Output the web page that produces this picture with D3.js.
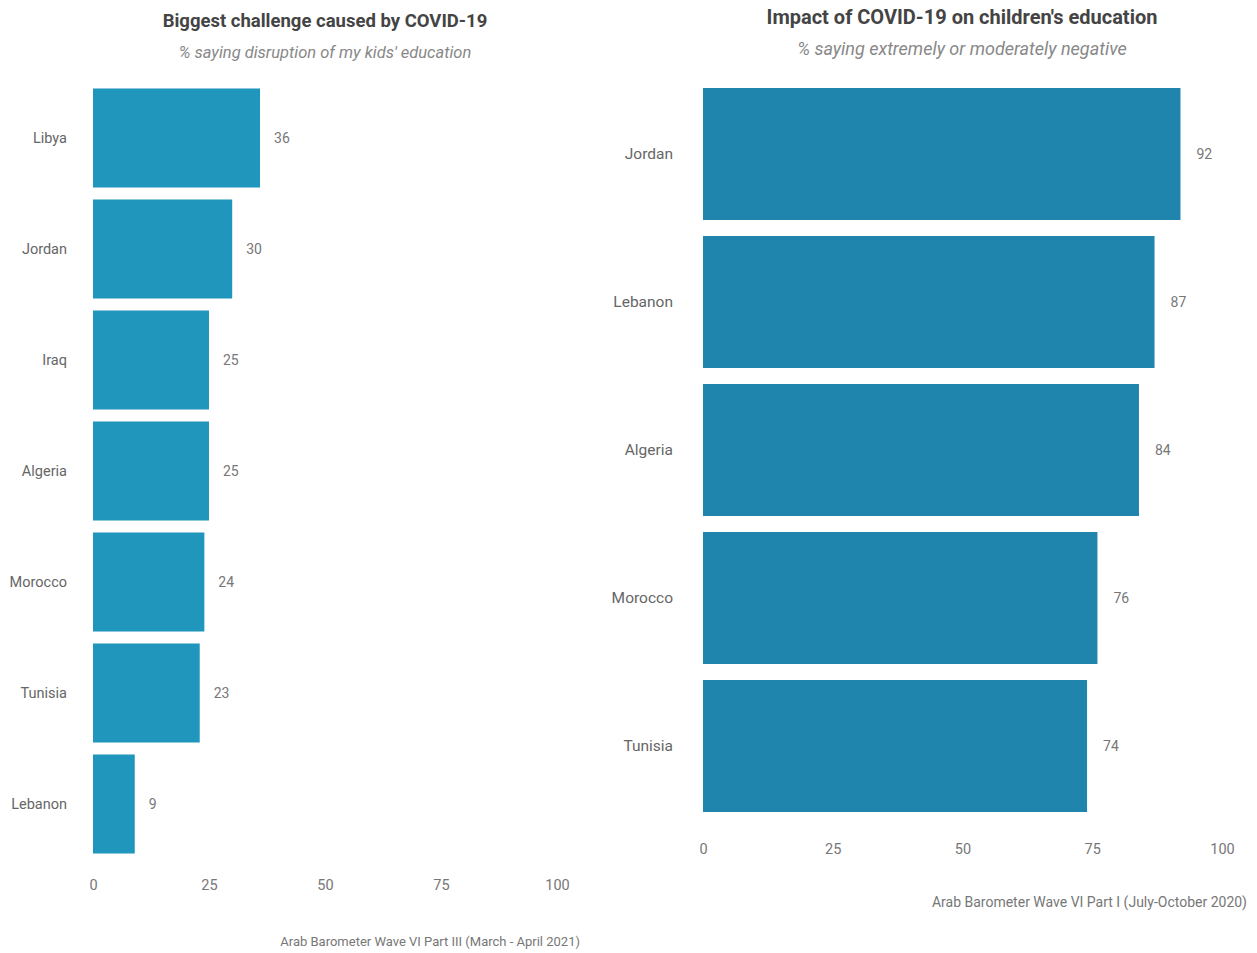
<!DOCTYPE html>
<html>
<head>
<meta charset="utf-8">
<script src="https://cdn.jsdelivr.net/npm/d3@7"></script>
<style>
  body { margin: 0; background: #fff; }
  text { font-family: "Roboto", sans-serif; }
</style>
</head>
<body>
<div id="wrapper"></div>
<script>
const leftCountries = ["Libya", "Jordan", "Iraq", "Algeria", "Morocco", "Tunisia", "Lebanon"];
const leftValues = [36, 30, 25, 25, 24, 23, 9];
const rightCountries = ["Jordan", "Lebanon", "Algeria", "Morocco", "Tunisia"];
const rightValues = [92, 87, 84, 76, 74];
const ticks = [0, 25, 50, 75, 100];

const width = 1257, height = 953;
const svg = d3.select("#wrapper").append("svg")
    .attr("width", width).attr("height", height);

function panel(opt) {
    const data = opt.countries.map((c, i) => ({ country: c, value: opt.values[i] }));
    const x = d3.scaleLinear().domain([0, 100]).range(opt.xRange);
    const y = d3.scaleBand().domain(opt.countries).range(opt.yRange)
        .paddingInner(0.108).paddingOuter(0.054);
    const g = svg.append("g");

    g.selectAll("rect").data(data).join("rect")
        .attr("x", x(0))
        .attr("y", d => y(d.country))
        .attr("width", d => x(d.value) - x(0))
        .attr("height", y.bandwidth())
        .attr("fill", opt.color);

    g.selectAll(".val").data(data).join("text")
        .attr("class", "val")
        .attr("x", d => x(d.value) + opt.labelGap)
        .attr("y", d => y(d.country) + y.bandwidth() / 2)
        .attr("dy", "0.35em")
        .attr("font-size", 14)
        .attr("fill", "#777")
        .text(d => d.value);

    const yAxis = g.append("g")
        .attr("transform", `translate(${x(0) - opt.catGap},0)`)
        .call(d3.axisLeft(y).tickSize(0).tickPadding(0));
    yAxis.select(".domain").remove();
    yAxis.selectAll("text").attr("font-size", opt.catSize).attr("fill", "#666")
        .style("font-family", "Roboto, sans-serif");

    const xAxis = g.append("g")
        .attr("transform", `translate(0,${opt.tickY})`)
        .call(d3.axisBottom(x).tickValues(ticks).tickSize(0).tickPadding(0));
    xAxis.select(".domain").remove();
    xAxis.selectAll("text").attr("font-size", 14.5).attr("fill", "#777").attr("dy", "0.35em")
        .style("font-family", "Roboto, sans-serif");

    svg.append("text")
        .attr("x", opt.titleX).attr("y", opt.titleY)
        .attr("text-anchor", "middle")
        .attr("font-size", opt.titleSize).attr("font-weight", "bold").attr("fill", "#444")
        .text(opt.title);
    svg.append("text")
        .attr("x", opt.titleX).attr("y", opt.titleY + 31)
        .attr("text-anchor", "middle")
        .attr("font-size", opt.subSize).attr("font-style", "italic").attr("fill", "#888")
        .text(opt.subtitle);
    svg.append("text")
        .attr("x", opt.captionX).attr("y", opt.captionY)
        .attr("text-anchor", "end")
        .attr("font-size", opt.capSize).attr("fill", "#777")
        .text(opt.caption);
}

panel({
    countries: leftCountries, values: leftValues,
    xRange: [93, 557], yRange: [82.5, 859.5],
    color: "#2196bc", labelGap: 14, tickY: 885, catGap: 26, catSize: 14.5,
    title: "Biggest challenge caused by COVID-19",
    subtitle: "% saying disruption of my kids' education",
    titleX: 325, titleY: 27, titleSize: 18.5, subSize: 16.5,
    caption: "Arab Barometer Wave VI Part III (March - April 2021)",
    captionX: 580, captionY: 946, capSize: 13
});

panel({
    countries: rightCountries, values: rightValues,
    xRange: [703, 1222], yRange: [80, 820],
    color: "#1f85ad", labelGap: 16, tickY: 849, catGap: 30, catSize: 15.5,
    title: "Impact of COVID-19 on children's education",
    subtitle: "% saying extremely or moderately negative",
    titleX: 962, titleY: 24, titleSize: 20, subSize: 18,
    caption: "Arab Barometer Wave VI Part I (July-October 2020)",
    captionX: 1247, captionY: 907, capSize: 14
});
</script>
</body>
</html>
